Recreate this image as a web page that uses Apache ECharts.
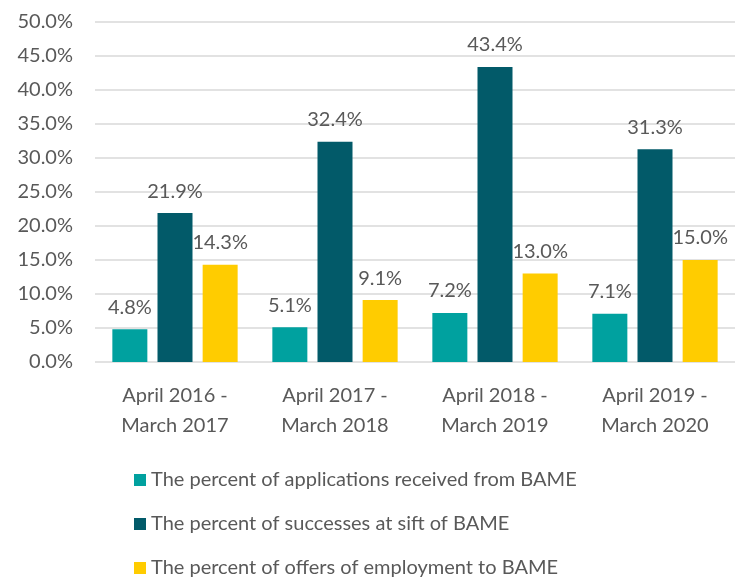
<!DOCTYPE html>
<html>
<head>
<meta charset="utf-8">
<script src="https://cdn.jsdelivr.net/npm/echarts@6/dist/echarts.min.js"></script>
<style>
  html, body { margin: 0; padding: 0; background: #fff; }
  #chart { width: 744px; height: 582px; }
</style>
</head>
<body>
<div id="chart"></div>
<script>
// categories and values
const periods = [
  'April 2016 -\nMarch 2017',
  'April 2017 -\nMarch 2018',
  'April 2018 -\nMarch 2019',
  'April 2019 -\nMarch 2020'
]
const applications = [4.8, 5.1, 7.2, 7.1]
const sifts = [21.9, 32.4, 43.4, 31.3]
const offers = [14.3, 9.1, 13.0, 15.0]
const seriesNames = [
  'The percent of applications received from BAME',
  'The percent of successes at sift of BAME',
  'The percent of offers of employment to BAME'
]

const font = 'Lato, "Open Sans", sans-serif'
const textColor = '#595959'

const chart = echarts.init(document.getElementById('chart'))

function bar(name, data, color) {
  return {
    name: name,
    type: 'bar',
    data: data,
    barWidth: 35,
    barGap: '29%',
    itemStyle: { color: color },
    label: {
      show: true,
      position: 'top',
      distance: 12,
      color: textColor,
      fontFamily: font,
      fontSize: 20,
      formatter: p => p.value.toFixed(1) + '%'
    }
  }
}

chart.setOption({
  animation: false,
  grid: { left: 95, right: 9, top: 22, bottom: 220 },
  xAxis: {
    type: 'category',
    data: periods,
    axisLine: { show: false },
    axisTick: { show: false },
    axisLabel: {
      color: textColor,
      fontFamily: font,
      fontSize: 20,
      lineHeight: 30,
      margin: 19
    }
  },
  yAxis: {
    type: 'value',
    min: 0,
    max: 50,
    interval: 5,
    axisLine: { show: false },
    axisTick: { show: false },
    splitLine: { lineStyle: { color: '#d9d9d9', width: 1.5 } },
    axisLabel: {
      color: textColor,
      fontFamily: font,
      fontSize: 20,
      margin: 22,
      formatter: v => v.toFixed(1) + '%'
    }
  },
  legend: {
    orient: 'vertical',
    left: 129,
    top: 465,
    height: 140,
    itemGap: 24,
    itemWidth: 12,
    itemHeight: 12,
    icon: 'rect',
    textStyle: { color: textColor, fontFamily: font, fontSize: 20 },
    data: seriesNames
  },
  series: [
    bar(seriesNames[0], applications, '#00a19f'),
    bar(seriesNames[1], sifts, '#025a69'),
    bar(seriesNames[2], offers, '#ffcc00')
  ]
})
</script>
</body>
</html>
